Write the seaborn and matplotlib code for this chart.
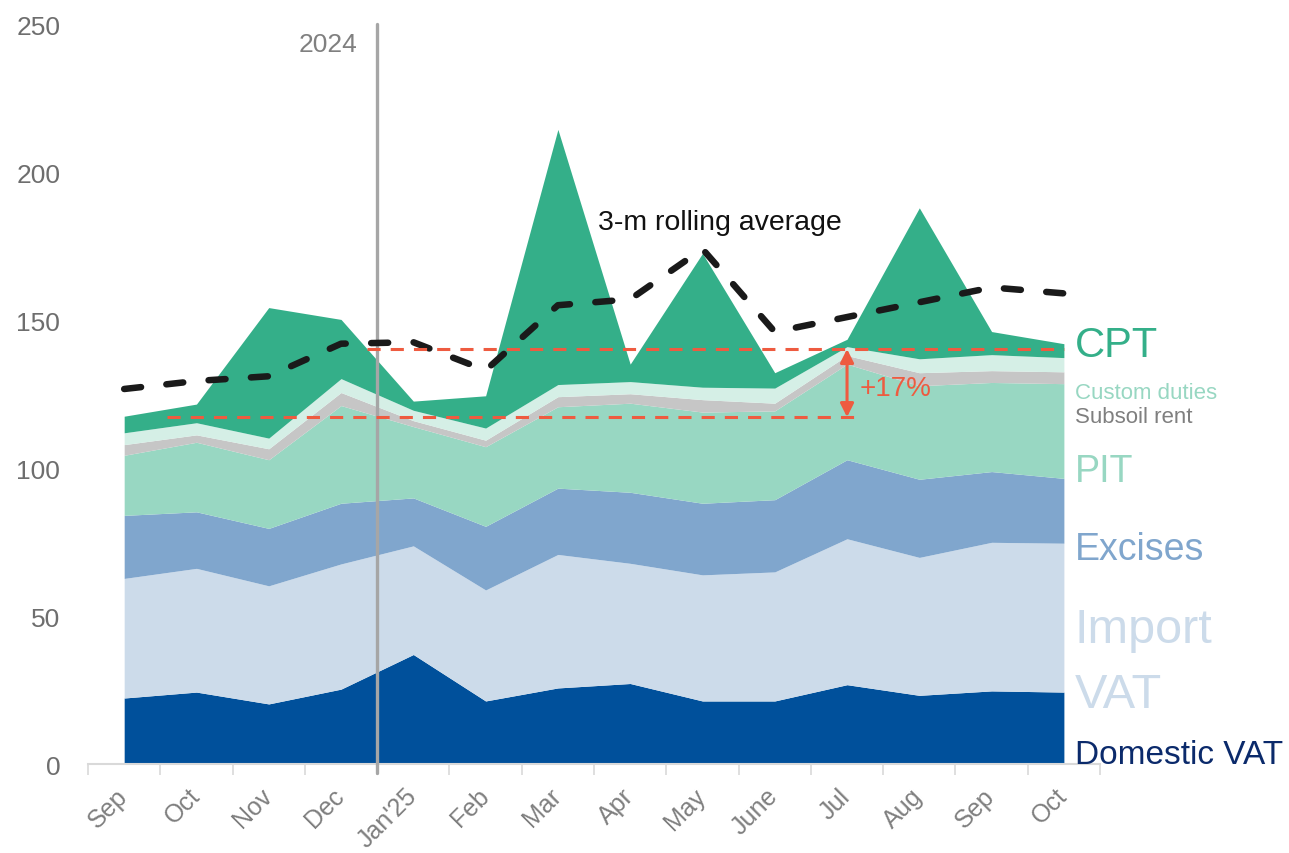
import numpy as np
import pandas as pd
import matplotlib
matplotlib.use("Agg")
import matplotlib.pyplot as plt
import matplotlib.transforms as mtransforms
import seaborn as sns

sns.set_theme(style="white")
plt.rcParams["font.family"] = ["Liberation Sans", "DejaVu Sans"]

# ---------------------------------------------------------------------------
# Data (monthly tax revenues)
# ---------------------------------------------------------------------------
months = ["Sep", "Oct", "Nov", "Dec", "Jan'25", "Feb", "Mar", "Apr", "May",
          "June", "Jul", "Aug", "Sep", "Oct"]

domestic_vat = [22.3, 24.3, 20.3, 25.3, 37.0, 21.3, 25.7, 27.2, 21.3, 21.3, 26.8, 23.2, 24.7, 24.3]
import_vat   = [40.4, 41.8, 39.9, 42.3, 36.7, 37.5, 45.1, 40.6, 42.6, 43.6, 49.3, 46.6, 50.2, 50.3]
excises      = [21.3, 19.1, 19.4, 20.5, 16.2, 21.5, 22.4, 24.0, 24.2, 24.4, 26.7, 26.4, 23.9, 21.9]
pit          = [20.3, 23.5, 23.2, 33.0, 24.1, 26.9, 27.5, 30.1, 30.8, 30.0, 32.3, 31.6, 30.1, 32.0]
subsoil_rent = [3.6, 2.5, 3.7, 4.4, 2.0, 2.2, 3.4, 3.2, 4.2, 2.6, 2.9, 4.4, 4.0, 4.0]
custom_duty  = [4.0, 4.1, 3.6, 4.7, 3.5, 4.1, 4.1, 4.1, 4.2, 5.1, 3.0, 4.7, 5.4, 4.8]
cpt          = [5.6, 6.3, 44.1, 20.0, 3.1, 10.9, 86.2, 5.9, 45.2, 5.2, 2.5, 51.0, 7.8, 4.7]

rolling_avg  = [126.7, 129.4, 131.0, 142.0, 142.5, 133.0, 155.0, 157.0, 174.0,
                146.0, 151.0, 156.0, 161.0, 159.0]

# reference levels for the +17% annotation
level_before = 117.2
level_after = 140.2

colors = {
    "Domestic VAT": "#00509B",
    "Import VAT": "#CCDBEA",
    "Excises": "#80A6CD",
    "PIT": "#98D7C2",
    "Subsoil rent": "#C6C6C6",
    "Custom duties": "#D5EFE6",
    "CPT": "#34AF89",
}
red = "#EE5B40"
grey_txt = "#6E6E6E"

x = np.arange(len(months))

# ---------------------------------------------------------------------------
# Figure
# ---------------------------------------------------------------------------
fig = plt.figure(figsize=(12.89, 8.54), dpi=100)
ax = fig.add_axes([0.0683, 0.1042, 0.7851, 0.8665])

ax.stackplot(x, domestic_vat, import_vat, excises, pit, subsoil_rent,
             custom_duty, cpt, colors=list(colors.values()), lw=0)

# 2024 / 2025 divider
ax.plot([3.5, 3.5], [-3, 250], color="#A6A6A6", lw=2.4, clip_on=False, zorder=4)
ax.text(3.22, 241, "2024", ha="right", va="baseline", fontsize=19, color="#808080")

# rolling average
df_roll = pd.DataFrame({"x": x, "avg": rolling_avg})
sns.lineplot(data=df_roll, x="x", y="avg", ax=ax, color="#1A1A1A", lw=4.7,
             linestyle=(0, (2.6, 3.9)), dash_capstyle="round", zorder=5)
ax.text(6.55, 180.7, "3-m rolling average", fontsize=20.5, color="#111111",
        va="baseline", ha="left")

# +17% comparison
ax.plot([0.59, 10.14], [level_before] * 2, color=red, lw=2.2,
        linestyle=(0, (4.3, 3.3)), zorder=6)
ax.plot([3.36, 13.0], [level_after] * 2, color=red, lw=2.2,
        linestyle=(0, (4.3, 3.3)), zorder=6)
ax.annotate("", xy=(10, level_after), xytext=(10, level_before),
            arrowprops=dict(arrowstyle="<|-|>", color=red, lw=2.2,
                            mutation_scale=20, shrinkA=0, shrinkB=0), zorder=7)
ax.text(10.17, 127, "+17%", fontsize=20, color=red, va="center", ha="left")

# series labels on the right
lab_x = 13.15
labels = [
    ("CPT", 137.8, 30, colors["CPT"]),
    ("Custom duties", 123.6, 16, "#98D7C2"),
    ("Subsoil rent", 115.5, 16, "#7F7F7F"),
    ("PIT", 95.6, 27, colors["PIT"]),
    ("Excises", 69.3, 27, colors["Excises"]),
    ("Import", 41.2, 35, colors["Import VAT"]),
    ("VAT", 19.3, 35, colors["Import VAT"]),
    ("Domestic VAT", 0.3, 24, "#0B2A6B"),
]
for txt, yv, fs, col in labels:
    ax.text(lab_x, yv, txt, fontsize=fs, color=col, ha="left", va="baseline",
            clip_on=False)

# axes styling
ax.set_xlim(-0.5, 13.5)
ax.set_ylim(0, 250)
ax.set_yticks([0, 50, 100, 150, 200, 250])
ax.tick_params(axis="y", length=0, pad=20, labelsize=19, labelcolor=grey_txt)
ax.set_xticks(x)
ax.set_xticklabels(months, rotation=45, ha="right", rotation_mode="anchor",
                   fontsize=18, color="#7F7F7F")
ax.set_xticks(np.arange(-0.5, 14, 1), minor=True)
ax.tick_params(axis="x", which="major", length=0, pad=14)
ax.tick_params(axis="x", which="minor", length=8, width=1.2, color="#D9D9D9",
               direction="out", bottom=True)
ax.set_xlabel("")
ax.set_ylabel("")
for side in ["left", "right", "top"]:
    ax.spines[side].set_visible(False)
ax.spines["bottom"].set_color("#D9D9D9")
ax.spines["bottom"].set_linewidth(1.5)
ax.grid(False)

# nudge month labels left so their ends sit under each month
shift = mtransforms.ScaledTranslation(-0.09, 0, fig.dpi_scale_trans)
for lbl in ax.get_xticklabels():
    lbl.set_transform(lbl.get_transform() + shift)

fig.savefig("out.png", dpi=100)
